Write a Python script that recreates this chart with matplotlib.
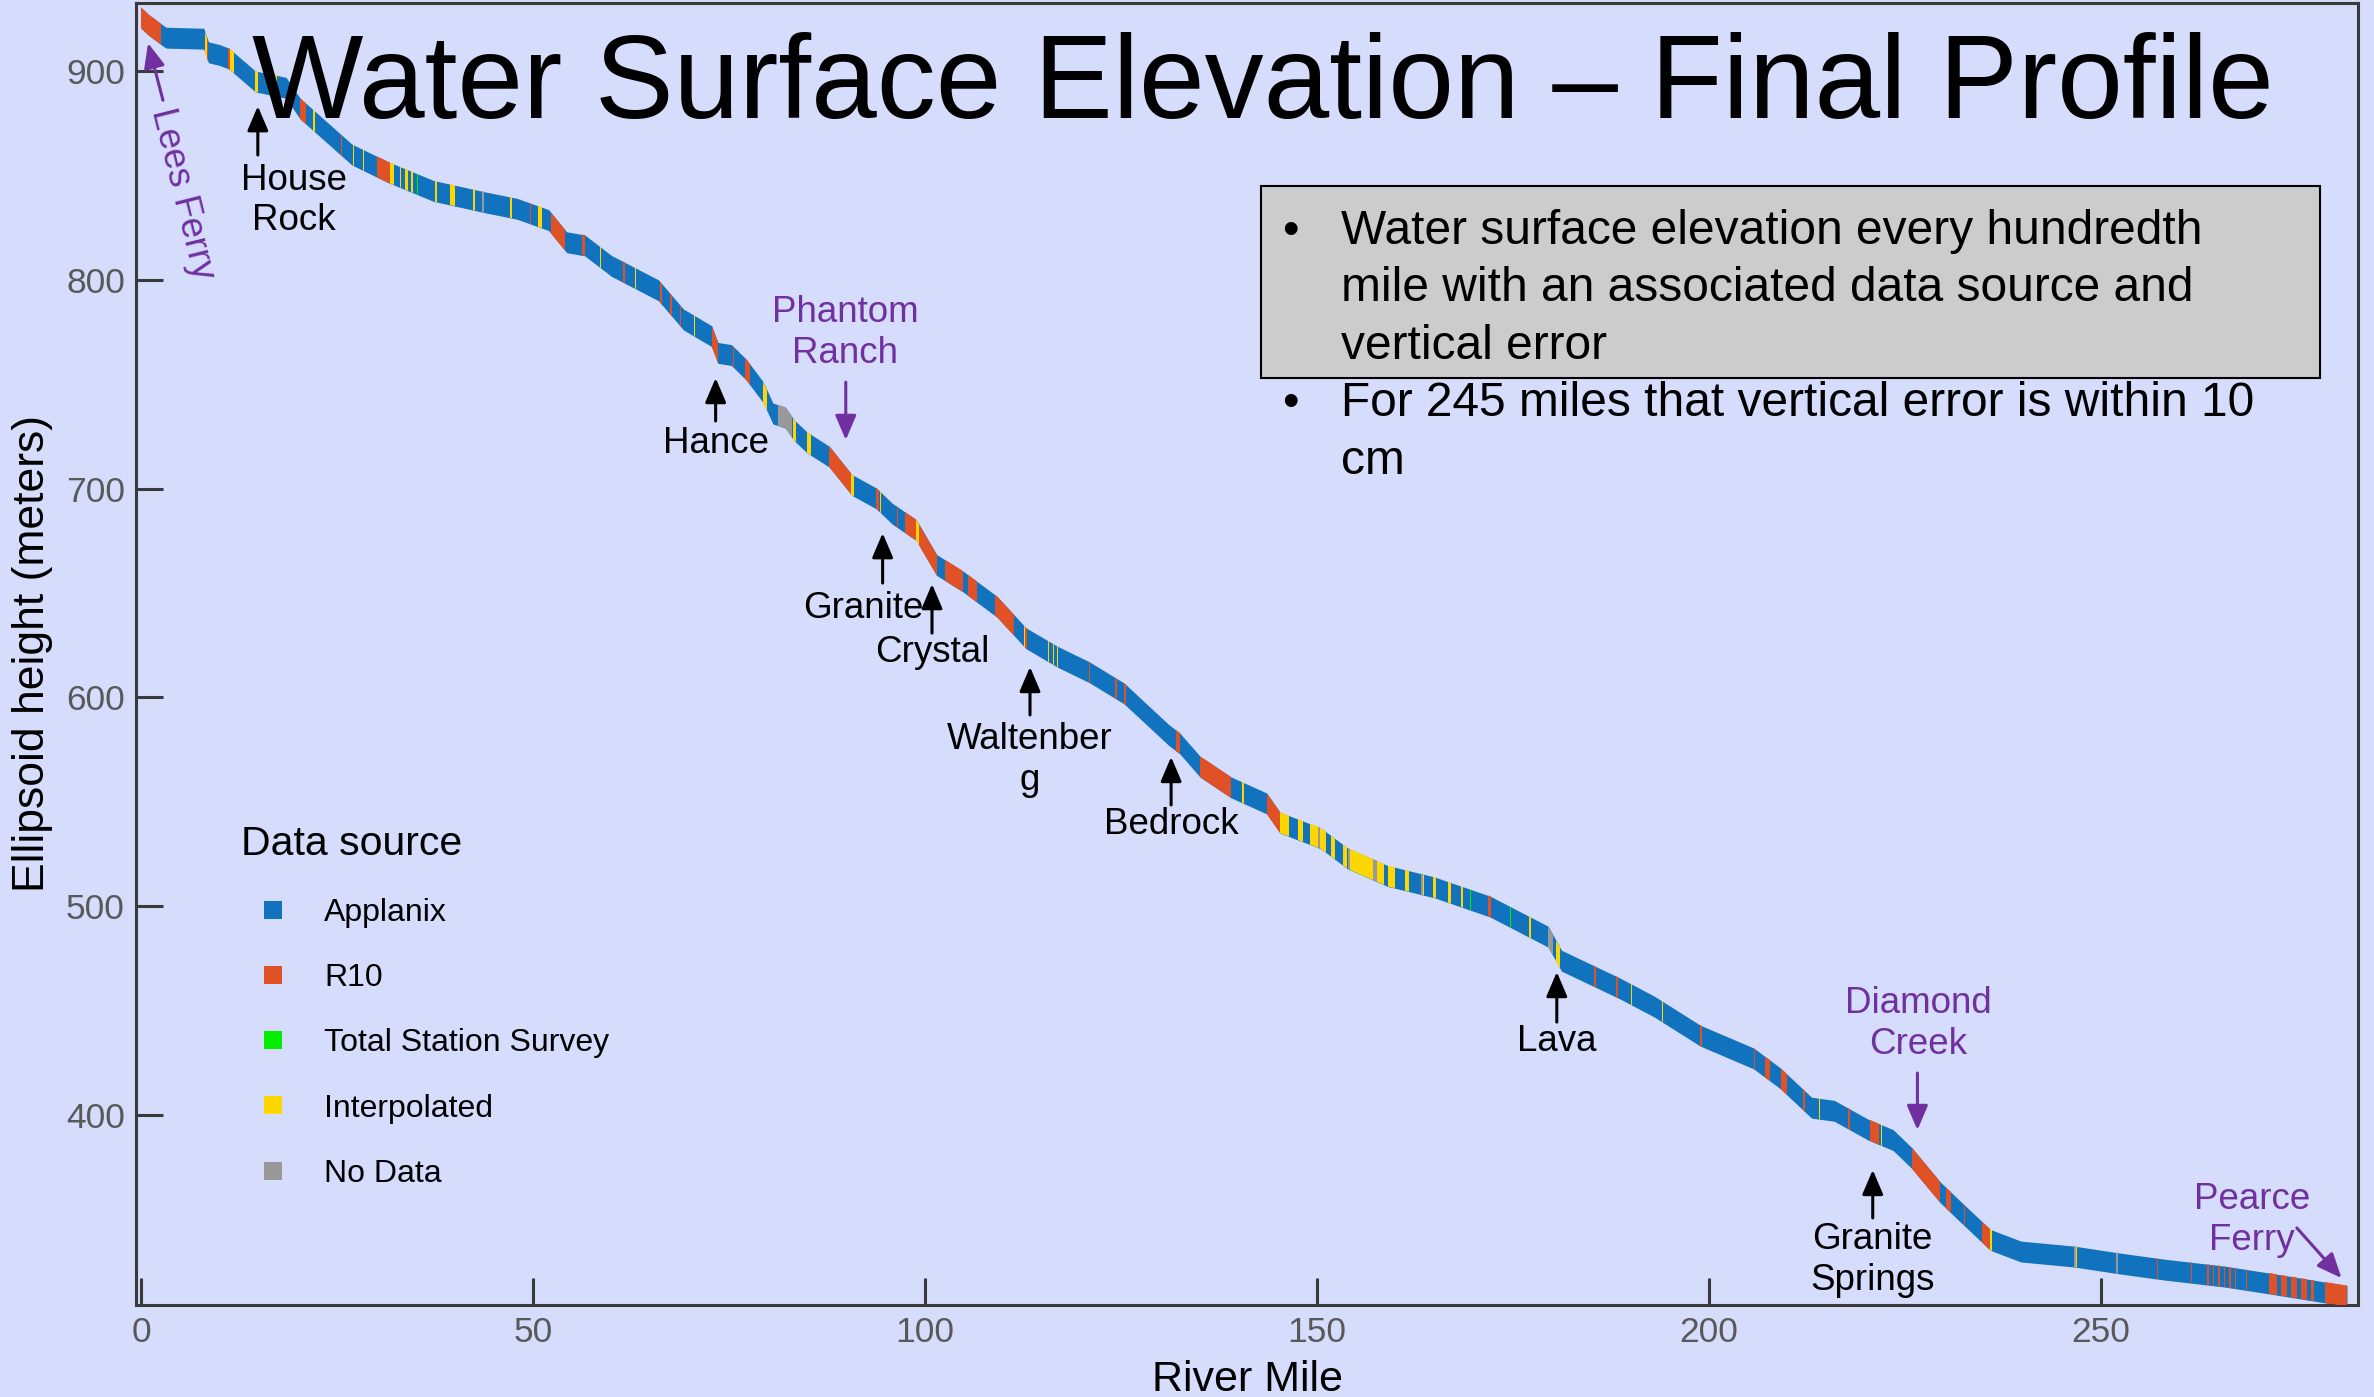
import matplotlib
matplotlib.use('Agg')
import matplotlib.pyplot as plt
from matplotlib.lines import Line2D
from matplotlib.patches import Rectangle
import numpy as np

plt.rcParams['font.family'] = ['Liberation Sans', 'DejaVu Sans']

# ---------------- data ----------------
prof_mile = [0.0, 1.0, 2.8, 3.2, 8.0, 8.6, 10.0, 11.2, 14.6, 18.5,
             20.3, 23.0, 26.9, 31.5, 37.3, 43.8, 48.0, 52.0, 54.3, 56.6,
             60.0, 66.0, 69.2, 72.8, 73.6, 75.3, 77.2, 79.4, 80.6, 82.2,
             83.3, 85.0, 87.8, 90.7, 93.8, 95.8, 98.9, 101.5, 104.9, 109.2,
             112.9, 116.9, 121.0, 125.4, 131.1, 132.5, 135.1, 139.0, 143.6, 145.3,
             150.5, 153.9, 159.0, 165.0, 172.1, 179.5, 181.2, 188.6, 193.0, 198.9,
             205.7, 209.1, 213.1, 216.0, 220.3, 223.5, 225.9, 229.5, 232.0, 235.9,
             239.8, 246.6, 252.2, 258.0, 265.8, 272.0, 281.4]
prof_elev = [925.5, 922, 917, 916, 915.5, 909, 907.7, 906, 895, 892,
             882, 873, 860, 851.6, 842.6, 837.2, 834, 828.6, 818, 816.5,
             806.7, 795, 781, 773, 765, 764, 757, 746, 736, 734,
             728, 722, 715.3, 701.7, 695.3, 688.1, 680.1, 663.4, 655.4, 643.4,
             628.3, 619.5, 612, 601.9, 582, 578, 566.8, 557, 549.2, 540,
             532.5, 522.9, 514.5, 509, 499.8, 485.4, 473.9, 460.7, 452, 438,
             427.1, 417.6, 403.5, 402, 393, 388, 379.3, 363, 354, 340.2,
             334.6, 332.2, 329, 326, 322.6, 319, 313.3]

# runs where the data source is not Applanix (Applanix elsewhere)
R, Y, G, N = 'R10', 'Interpolated', 'Total Station Survey', 'No Data'
run_start = [0.0, 8.1, 8.4, 11.1, 11.4, 14.5, 17.0, 20.3, 22.0, 25.5,
             27.0, 28.3, 30.1, 31.7, 33.0, 33.7, 34.5, 35.2, 37.5, 39.4,
             42.4, 43.5, 47.1, 49.6, 50.7, 52.3, 56.2, 58.5, 61.5, 63.0,
             66.2, 67.5, 68.7, 70.5, 72.8, 75.5, 77.0, 79.4, 81.2, 83.2,
             85.0, 87.8, 90.6, 93.8, 94.3, 96.4, 97.5, 98.9, 99.2, 102.6,
             105.5, 108.9, 112.6, 112.8, 115.7, 116.3, 116.8, 120.9, 124.3, 125.4,
             132.0, 135.1, 140.5, 143.6, 145.3, 147.6, 149.1, 150.1, 150.4, 151.8,
             153.3, 154.0, 154.2, 157.2, 157.6, 159.1, 161.2, 163.3, 163.5, 164.8,
             166.7, 168.4, 169.5, 171.8, 174.6, 177.1, 179.5, 180.5, 185.4, 188.2,
             190.0, 194.0, 198.9, 205.7, 207.1, 209.2, 212.0, 214.0, 217.8, 220.6,
             221.9, 225.9, 230.2, 232.5, 234.8, 235.9, 246.6, 246.8, 251.9, 257.2,
             261.5, 263.6, 264.3, 265.0, 265.7, 266.4, 267.1, 268.5, 271.5, 273.0,
             274.3, 275.5, 276.8, 278.6]
run_end = [2.6, 8.4, 8.6, 11.3, 11.8, 14.9, 17.4, 21.0, 22.15, 25.65,
           27.15, 28.45, 31.7, 32.3, 33.15, 34.1, 34.7, 35.35, 37.7, 40.0,
           42.55, 43.8, 47.3, 49.75, 51.1, 54.1, 56.6, 58.65, 61.7, 63.15,
           66.4, 67.7, 68.9, 70.65, 73.6, 75.7, 77.7, 79.8, 83.0, 83.6,
           85.5, 90.6, 90.9, 94.1, 94.45, 96.6, 98.9, 99.2, 101.5, 104.9,
           106.6, 111.4, 112.8, 113.0, 115.85, 116.45, 116.95, 121.1, 124.5, 125.6,
           132.5, 139.1, 140.7, 145.3, 146.5, 148.2, 150.1, 150.35, 151.2, 152.3,
           153.8, 154.2, 157.2, 157.6, 158.6, 159.9, 161.8, 163.5, 163.7, 165.2,
           167.1, 168.6, 169.65, 172.2, 174.75, 177.25, 180.1, 181.0, 185.6, 188.4,
           190.15, 194.15, 199.1, 205.9, 207.8, 209.9, 212.2, 214.15, 218.0, 221.7,
           222.05, 229.5, 230.9, 232.7, 235.9, 236.05, 246.8, 246.95, 252.2, 257.35,
           261.65, 263.75, 264.45, 265.15, 265.85, 266.55, 267.25, 268.65, 272.5, 273.8,
           275.0, 276.3, 277.2, 281.4]
run_source = [R, Y, R, R, Y, Y, Y, R, Y, R,
              Y, Y, R, Y, Y, Y, Y, G, Y, Y,
              Y, N, Y, R, Y, R, R, Y, R, Y,
              R, R, R, Y, R, R, R, Y, N, Y,
              Y, R, Y, R, Y, R, R, Y, R, R,
              R, R, Y, R, Y, Y, Y, R, R, R,
              R, R, Y, R, Y, Y, Y, N, Y, Y,
              Y, N, Y, N, Y, Y, Y, N, Y, Y,
              Y, Y, G, R, G, Y, N, Y, R, R,
              Y, Y, R, R, R, R, R, Y, R, R,
              Y, R, R, R, R, Y, N, Y, N, R,
              R, R, R, R, R, R, R, R, R, R,
              R, R, R, R]

legend_labels = ['Applanix', 'R10', 'Total Station Survey', 'Interpolated', 'No Data']
source_colors = {'Applanix': '#1172be', 'R10': '#e05226', 'Total Station Survey': '#00ee00',
                 'Interpolated': '#ffd700', 'No Data': '#999999'}

ann_labels = ['House\nRock', 'Hance', 'Granite', 'Crystal', 'Waltenber\ng',
              'Bedrock', 'Lava', 'Granite\nSprings',
              'Phantom\nRanch', 'Diamond\nCreek', 'Pearce\nFerry']
ann_text_x = [19.5, 73.3, 92.1, 100.9, 113.4, 131.4, 180.6, 220.9, 89.8, 226.7, 269.3]
ann_text_y = [838.0, 721.4, 642.8, 621.7, 570.0, 538.9, 435.0, 330.6, 774.5, 443.6, 349.7]
ann_tail_x = [14.9, 73.3, 94.6, 100.9, 113.4, 131.4, 180.6, 220.9, 89.9, 226.6, 275.0]
ann_tail_y = [859.8, 732.4, 654.8, 630.8, 591.6, 548.5, 444.5, 350.7, 751.0, 420.1, 345.9]
ann_head_x = [14.9, 73.3, 94.6, 100.9, 113.4, 131.4, 180.6, 220.9, 89.9, 226.6, 280.7]
ann_head_y = [883.2, 753.0, 678.7, 654.3, 614.6, 571.5, 468.5, 373.7, 723.3, 392.8, 321.9]
PURPLE = '#7030a0'
ann_colors = ['black'] * 8 + [PURPLE] * 3

lees_label = 'Lees Ferry'
lees_text_xy = (5.2, 841.1)
lees_tail_xy = (2.8, 886.0)
lees_head_xy = (0.9, 913.4)

title = 'Water Surface Elevation \u2013 Final Profile'
bullet_lines = [['Water surface elevation every hundredth',
                 'mile with an associated data source and',
                 'vertical error'],
                ['For 245 miles that vertical error is within 10',
                 'cm']]

x_ticks = [0, 50, 100, 150, 200, 250]
y_ticks = [400, 500, 600, 700, 800, 900]

# ---------------- figure ----------------
W, H = 2374, 1397
fig = plt.figure(figsize=(W / 100, H / 100), dpi=100)
BG = '#d5dcfc'
fig.patch.set_facecolor(BG)
ax = fig.add_axes([136 / W, 1 - 1305 / H, (2358 - 136) / W, (1305 - 3) / H])
ax.set_facecolor(BG)

HALF = 5.0
pe = np.array(prof_elev)
band = ax.fill_between(prof_mile, pe - HALF, pe + HALF, color=source_colors['Applanix'],
                       lw=0, zorder=2)
clip = band.get_paths()[0]
for s, e, src in zip(run_start, run_end, run_source):
    r = ax.axvspan(s, e, color=source_colors[src], lw=0, zorder=3)
    r.set_clip_path(clip, ax.transData)

ax.set_xlim(-0.64, 282.8)
ax.set_ylim(309, 932.6)
ax.set_xticks(x_ticks)
ax.set_yticks(y_ticks)
ax.tick_params(direction='in', length=19.5, width=2.2, color='#3a3a3a',
               labelsize=25.5, labelcolor='#595959', pad=8)
for sp in ax.spines.values():
    sp.set_linewidth(2.2)
    sp.set_color('#3a3a3a')

ax.set_xlabel('River Mile', fontsize=31)
ax.xaxis.set_label_coords(0.5, -(1380 - 1305) / 1302)
ax.xaxis.label.set_verticalalignment('center')
ax.set_ylabel('Ellipsoid height (meters)', fontsize=32)
ax.yaxis.set_label_coords((33 - 136) / 2222, 0.5)
ax.yaxis.label.set_verticalalignment('center')
ax.yaxis.label.set_horizontalalignment('center')

# annotations
for lab, tx, ty, ax0, ay0, hx, hy, c in zip(ann_labels, ann_text_x, ann_text_y,
                                          ann_tail_x, ann_tail_y, ann_head_x, ann_head_y,
                                          ann_colors):
    ax.annotate('', xy=(hx, hy), xytext=(ax0, ay0),
                arrowprops=dict(arrowstyle='-|>,head_length=0.75,head_width=0.32',
                                color=c, lw=2.2, shrinkA=0, shrinkB=0, mutation_scale=20),
                zorder=5)
    ax.text(tx, ty, lab, ha='center', va='center', fontsize=26.5, color=c,
            linespacing=1.2, zorder=5)

ax.annotate('', xy=lees_head_xy, xytext=lees_tail_xy,
            arrowprops=dict(arrowstyle='-|>,head_length=0.75,head_width=0.32',
                            color=PURPLE, lw=2.2, shrinkA=0, shrinkB=0, mutation_scale=20),
            zorder=5)
ax.text(lees_text_xy[0], lees_text_xy[1], lees_label, rotation=-76, rotation_mode='anchor',
        ha='center', va='center', fontsize=26.5, color=PURPLE, zorder=5)

# legend
handles = [Line2D([], [], ls='none', marker='s', markersize=13.5,
                  markerfacecolor=source_colors[k], markeredgewidth=0) for k in legend_labels]
fig.legend(handles, legend_labels, title='Data source', loc='upper left',
           bbox_to_anchor=(241 / W, 1 - 825 / H), frameon=False, fontsize=23,
           title_fontsize=29.5, handlelength=2.0, handletextpad=0.6, labelspacing=1.1,
           borderpad=0, borderaxespad=0, alignment='left')

# title
fig.text(1263 / W, 1 - 118 / H, title, ha='center', va='baseline', fontsize=85,
         color='black', zorder=6)

# bullet box
box = Rectangle((1261 / W, 1 - 378 / H), (2320 - 1261) / W, (378 - 186) / H,
                transform=fig.transFigure, facecolor='#cccccc', edgecolor='black',
                lw=1.5, zorder=4)
fig.patches.append(box)
baselines = [244, 301, 359, 416, 474]
k = 0
for para in bullet_lines:
    for j, line in enumerate(para):
        yb = 1 - baselines[k] / H
        if j == 0:
            fig.text(1290 / W, yb, '\u2022', ha='center', va='baseline', fontsize=34, zorder=6)
        fig.text(1341 / W, yb, line, ha='left', va='baseline', fontsize=34.5, zorder=6)
        k += 1

fig.savefig('out.png', dpi=100, facecolor=BG)
